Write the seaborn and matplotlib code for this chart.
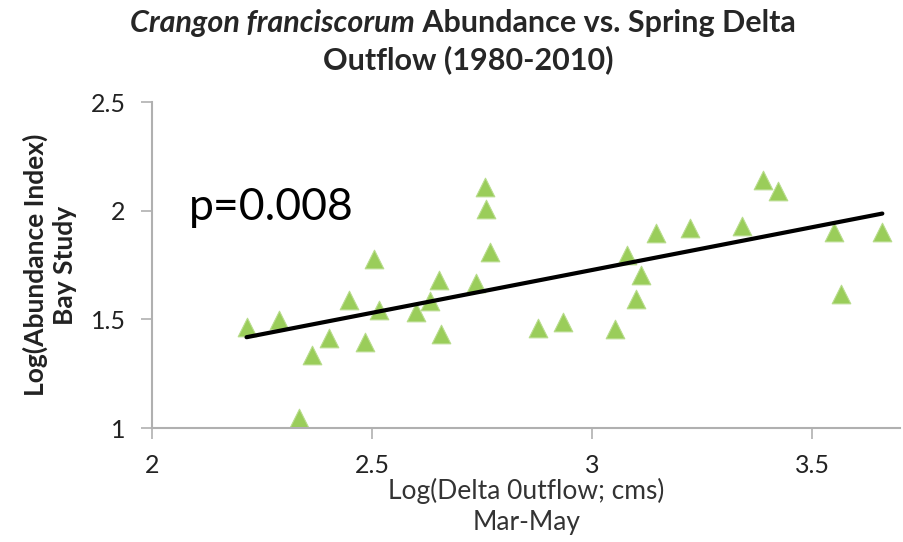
import numpy as np
import matplotlib
matplotlib.use("Agg")
import matplotlib.pyplot as plt
import seaborn as sns

# log10 spring (Mar-May) delta outflow vs log10 abundance index, 1980-2010
outflow = [2.215, 2.289, 2.363, 2.334, 2.402, 2.448, 2.483, 2.505, 2.516, 2.600,
           2.632, 2.652, 2.656, 2.736, 2.757, 2.758, 2.768, 2.876, 2.933, 3.051,
           3.079, 3.112, 3.099, 3.144, 3.222, 3.341, 3.389, 3.421, 3.549, 3.564,
           3.659]
abundance = [1.465, 1.499, 1.335, 1.048, 1.416, 1.587, 1.396, 1.778, 1.544, 1.534,
             1.584, 1.679, 1.434, 1.667, 2.107, 2.008, 1.809, 1.462, 1.488, 1.457,
             1.798, 1.702, 1.592, 1.898, 1.921, 1.928, 2.141, 2.089, 1.904, 1.618,
             1.900]
x_ticks = [2, 2.5, 3, 3.5]
y_ticks = [1, 1.5, 2, 2.5]
x_tick_labels = ["2", "2.5", "3", "3.5"]
y_tick_labels = ["1", "1.5", "2", "2.5"]

sns.set_style("white")
plt.rcParams["font.family"] = ["Lato", "DejaVu Sans"]

fig = plt.figure(figsize=(9.04, 5.42), dpi=100)
ax = fig.add_axes([0.168, 0.2103, 0.828, 0.6015])

sns.regplot(x=outflow, y=abundance, ax=ax, ci=None, truncate=True,
            marker="^",
            scatter_kws=dict(s=180, color="#9acd5a", edgecolor="#b8dc8c",
                             linewidths=0.8, alpha=1, zorder=2),
            line_kws=dict(color="black", lw=3, zorder=3))

ax.set_xlim(2, 3.7)
ax.set_ylim(1, 2.5)
ax.set_xticks(x_ticks, x_tick_labels)
ax.set_yticks(y_ticks, y_tick_labels)
ax.tick_params(axis="both", which="major", labelsize=18, length=8, width=1.2,
               color="#b0b0b0", pad=11, labelcolor="#222222", bottom=True, left=True)
for side in ["top", "right"]:
    ax.spines[side].set_visible(False)
for side in ["left", "bottom"]:
    ax.spines[side].set_color("#b0b0b0")
    ax.spines[side].set_linewidth(1.5)

ax.set_xlabel("Log(Delta 0utflow; cms)\nMar-May", fontsize=19, color="#333333",
              labelpad=0, linespacing=1.3)
ax.set_ylabel("Log(Abundance Index)\nBay Study", fontsize=19, fontweight="bold",
              color="#222222", labelpad=10, linespacing=1.25)

ax.text(0.05, 0.675, "p=0.008", transform=ax.transAxes, fontsize=32,
        color="black", va="center", ha="left")

# title with italic species name
t1 = fig.text(0.144, 0.957, "Crangon franciscorum", fontsize=22, fontweight="bold",
              fontstyle="italic", va="center", ha="left")
ax.annotate(" Abundance vs. Spring Delta", xy=(1, 0.5), xycoords=t1,
            fontsize=22, fontweight="bold", va="center", ha="left",
            annotation_clip=False)
fig.text(0.518, 0.89, "Outflow (1980-2010)", fontsize=22, fontweight="bold",
         va="center", ha="center")

fig.savefig("out.png", dpi=100)
